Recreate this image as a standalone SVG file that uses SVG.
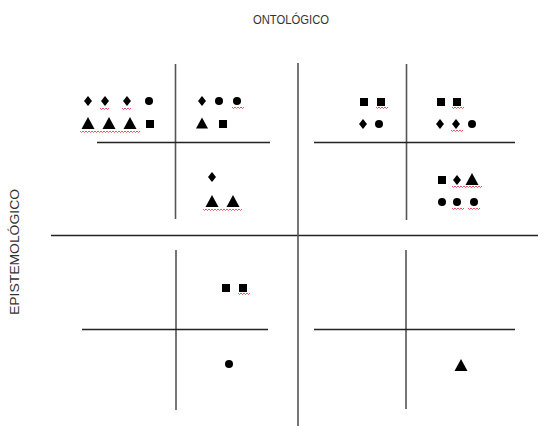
<svg xmlns="http://www.w3.org/2000/svg" width="538" height="426" viewBox="0 0 538 426">
<style>
.ln{stroke:#222;stroke-width:1.3;fill:none}
.gl{stroke:#555;stroke-width:1.6;fill:none}
.sq{stroke:#e03040;stroke-width:0.8;fill:none}
.lbl{font-family:"Liberation Sans",Arial,sans-serif;fill:#333}
</style>
<defs>
<path id="dia" d="M0,-5 L4,0 L0,5 L-4,0 Z" fill="#000"/>
<circle id="cir" r="4" fill="#000"/>
<rect id="sqr" x="-4" y="-4" width="8" height="8" fill="#000"/>
<path id="tri" d="M0,-6 L6.5,6 L-6.5,6 Z" fill="#000"/>
<path id="tris" d="M0,-5.5 L6,5.5 L-6,5.5 Z" fill="#000"/>
</defs>
<rect width="538" height="426" fill="#fff"/>
<text class="lbl" x="291" y="24" font-size="12" text-anchor="middle" textLength="76" lengthAdjust="spacingAndGlyphs">ONTOLÓGICO</text>
<text class="lbl" transform="translate(19,252) rotate(-90)" font-size="13" text-anchor="middle" textLength="126" lengthAdjust="spacingAndGlyphs">EPISTEMOLÓGICO</text>
<g id="connectors">
<line class="ln" x1="51" y1="235.5" x2="538" y2="235.5"/>
<line class="gl" x1="298" y1="63" x2="298" y2="426"/>
<line class="gl" x1="175.5" y1="64" x2="175.5" y2="219"/>
<line class="ln" x1="97" y1="142.5" x2="270" y2="142.5"/>
<line class="gl" x1="406.5" y1="64" x2="406.5" y2="220"/>
<line class="ln" x1="314" y1="142.5" x2="515" y2="142.5"/>
<line class="gl" x1="176" y1="250" x2="176" y2="410"/>
<line class="ln" x1="82" y1="329.5" x2="268" y2="329.5"/>
<line class="gl" x1="406" y1="250" x2="406" y2="409"/>
<line class="ln" x1="314" y1="329.5" x2="515" y2="329.5"/>
</g>
<g id="tl-a">
<use href="#dia" x="88" y="101"/><use href="#dia" x="105" y="101"/><use href="#dia" x="127" y="101"/><use href="#cir" x="149" y="101"/>
<use href="#tri" x="88" y="123"/><use href="#tri" x="109" y="123"/><use href="#tri" x="130" y="123"/><use href="#sqr" x="150" y="124"/>
<path class="sq" d="M100,108 l1.5,1.5 l1.5,-1.5 l1.5,1.5 l1.5,-1.5 l1.5,1.5 l1.5,-1.5 M122,108 l1.5,1.5 l1.5,-1.5 l1.5,1.5 l1.5,-1.5 l1.5,1.5 l1.5,-1.5"/>
<path class="sq" d="M80,131 l1.5,1.5 l1.5,-1.5 l1.5,1.5 l1.5,-1.5 l1.5,1.5 l1.5,-1.5 l1.5,1.5 l1.5,-1.5 l1.5,1.5 l1.5,-1.5 l1.5,1.5 l1.5,-1.5 l1.5,1.5 l1.5,-1.5 l1.5,1.5 l1.5,-1.5 l1.5,1.5 l1.5,-1.5 l1.5,1.5 l1.5,-1.5 l1.5,1.5 l1.5,-1.5 l1.5,1.5 l1.5,-1.5 l1.5,1.5 l1.5,-1.5 l1.5,1.5 l1.5,-1.5 l1.5,1.5 l1.5,-1.5 l1.5,1.5 l1.5,-1.5 l1.5,1.5 l1.5,-1.5 l1.5,1.5 l1.5,-1.5 l1.5,1.5 l1.5,-1.5 l1.5,1.5 l1.5,-1.5"/>
</g>
<g id="tl-b">
<use href="#dia" x="202" y="101"/><use href="#cir" x="219" y="101"/><use href="#cir" x="237" y="101"/>
<use href="#tris" x="202" y="123"/><use href="#sqr" x="223" y="124"/>
<path class="sq" d="M232,107 l1.5,1.5 l1.5,-1.5 l1.5,1.5 l1.5,-1.5 l1.5,1.5 l1.5,-1.5 l1.5,1.5 l1.5,-1.5"/>
</g>
<g id="tl-c">
<use href="#dia" x="212" y="177"/>
<use href="#tri" x="212" y="201"/><use href="#tri" x="233" y="201"/>
<path class="sq" d="M203,209 l1.5,1.5 l1.5,-1.5 l1.5,1.5 l1.5,-1.5 l1.5,1.5 l1.5,-1.5 l1.5,1.5 l1.5,-1.5 l1.5,1.5 l1.5,-1.5 l1.5,1.5 l1.5,-1.5 l1.5,1.5 l1.5,-1.5 l1.5,1.5 l1.5,-1.5 l1.5,1.5 l1.5,-1.5 l1.5,1.5 l1.5,-1.5 l1.5,1.5 l1.5,-1.5 l1.5,1.5 l1.5,-1.5 l1.5,1.5 l1.5,-1.5"/>
</g>
<g id="tr-a">
<use href="#sqr" x="364" y="102"/><use href="#sqr" x="381" y="102"/>
<use href="#dia" x="363" y="124"/><use href="#cir" x="379" y="124"/>
<path class="sq" d="M376,107 l1.5,1.5 l1.5,-1.5 l1.5,1.5 l1.5,-1.5 l1.5,1.5 l1.5,-1.5 l1.5,1.5 l1.5,-1.5"/>
</g>
<g id="tr-b">
<use href="#sqr" x="441" y="102"/><use href="#sqr" x="457" y="102"/>
<use href="#dia" x="440" y="124"/><use href="#dia" x="456" y="124"/><use href="#cir" x="472" y="124"/>
<path class="sq" d="M452,107 l1.5,1.5 l1.5,-1.5 l1.5,1.5 l1.5,-1.5 l1.5,1.5 l1.5,-1.5 l1.5,1.5 l1.5,-1.5 M451,130 l1.5,1.5 l1.5,-1.5 l1.5,1.5 l1.5,-1.5 l1.5,1.5 l1.5,-1.5 l1.5,1.5 l1.5,-1.5"/>
</g>
<g id="tr-c">
<use href="#sqr" x="442" y="180"/><use href="#dia" x="457" y="180"/><use href="#tri" x="472" y="179"/>
<use href="#cir" x="442" y="202"/><use href="#cir" x="457" y="202"/><use href="#cir" x="474" y="202"/>
<path class="sq" d="M452,186 l1.5,1.5 l1.5,-1.5 l1.5,1.5 l1.5,-1.5 l1.5,1.5 l1.5,-1.5 l1.5,1.5 l1.5,-1.5 l1.5,1.5 l1.5,-1.5 l1.5,1.5 l1.5,-1.5 l1.5,1.5 l1.5,-1.5 l1.5,1.5 l1.5,-1.5 l1.5,1.5 l1.5,-1.5 l1.5,1.5 l1.5,-1.5"/>
<path class="sq" d="M452,208 l1.5,1.5 l1.5,-1.5 l1.5,1.5 l1.5,-1.5 l1.5,1.5 l1.5,-1.5 l1.5,1.5 l1.5,-1.5 M468,208 l1.5,1.5 l1.5,-1.5 l1.5,1.5 l1.5,-1.5 l1.5,1.5 l1.5,-1.5 l1.5,1.5 l1.5,-1.5"/>
</g>
<g id="bl-a">
<use href="#sqr" x="226" y="288"/><use href="#sqr" x="243" y="288"/>
<path class="sq" d="M238,293 l1.5,1.5 l1.5,-1.5 l1.5,1.5 l1.5,-1.5 l1.5,1.5 l1.5,-1.5 l1.5,1.5 l1.5,-1.5"/>
</g>
<g id="bl-b">
<use href="#cir" x="229" y="364"/>
</g>
<g id="br-a">
<use href="#tri" x="461" y="365"/>
</g>
</svg>
